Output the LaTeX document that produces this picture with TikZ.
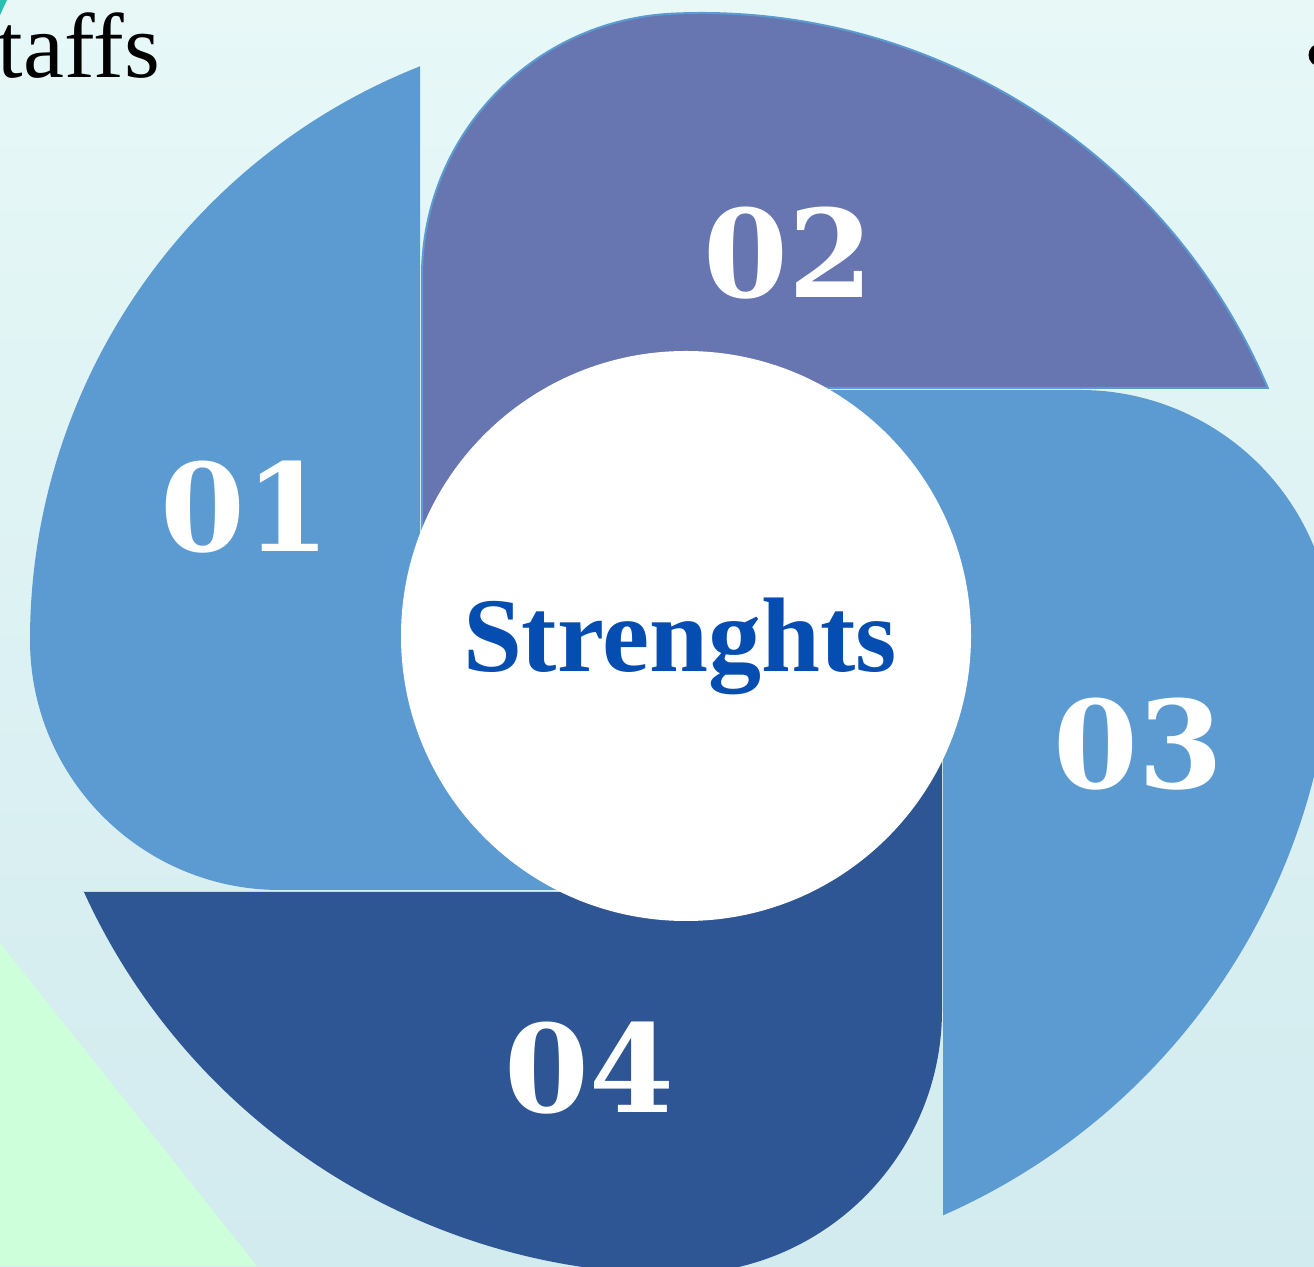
\documentclass[tikz,border=0pt]{standalone}
\usepackage{fontspec}
\setmainfont{Liberation Serif}
\newfontfamily\numfont{DejaVu Serif}
\definecolor{bgtop}{RGB}{231,248,247}
\definecolor{bgbot}{RGB}{210,235,239}
\definecolor{bladeA}{RGB}{92,155,210}
\definecolor{bladeB}{RGB}{103,118,176}
\definecolor{bladeC}{RGB}{46,86,148}
\definecolor{mintgreen}{RGB}{204,255,218}
\definecolor{tealmark}{RGB}{40,190,176}
\definecolor{strblue}{RGB}{5,77,176}
\tikzset{
  numtxt/.style={font=\numfont\bfseries\fontsize{122}{130}\selectfont, text=white, inner sep=0},
}
\begin{document}
\begin{tikzpicture}[x=1pt,y=1pt]
\useasboundingbox (0,0) rectangle (1314,1266);
\clip (0,0) rectangle (1314,1266);
% background
\shade[top color=bgtop, bottom color=bgbot] (0,0) rectangle (1314,1266);
\fill[mintgreen] (0,323) -- (257,0) -- (0,0) -- cycle;
\fill[tealmark] (0,1266) -- (7,1266) -- (0,1251) -- cycle;
\node[font=\fontsize{92}{100}\selectfont, anchor=base east, inner sep=0] (staffs) at (160,1188) {staffs};
\node[circle, fill=black, minimum size=23, inner sep=0] (dot) at (1320,1211) {};
% blade 01
\fill[bladeA] (420,1200) -- (420,630) -- (686,630) -- (686,376) -- (280,376)
  arc[start angle=-90,end angle=-180,radius=250]
  arc[start angle=180,end angle=111.6,radius=617] -- cycle;
% blade 04
\fill[bladeC] (83,374) -- (686,374) -- (686,630) -- (942,630) -- (942,256)
  arc[start angle=0,end angle=-90,radius=264]
  arc[start angle=-90,end angle=-155.51,radius=653] -- cycle;
% blade 03
\fill[bladeA] (686,876) -- (1080,876)
  arc[start angle=90,end angle=-3.85,radius=253]
  arc[start angle=-3.85,end angle=-66.22,radius=655] -- (943,630) -- (686,630) -- cycle;
% blade 02
\filldraw[fill=bladeB, draw=bladeA, line width=2] (686,630) -- (422,630) -- (422,990)
  arc[start angle=180,end angle=92.76,radius=262.6]
  arc[start angle=92.76,end angle=22.98,radius=615] -- (686,878) -- cycle;
% hub
\node[circle, fill=white, minimum size=570, inner sep=0] (hub) at (686,630) {};
\node[font=\fontsize{106}{110}\selectfont\bfseries, text=strblue, anchor=base, inner sep=0] (title) at (680,594) {Strenghts};
% numbers
\node[numtxt] (n01) at (245,759) {01};
\node[numtxt] (n02) at (788,1013) {02};
\node[numtxt] (n03) at (1138,522) {03};
\node[numtxt] (n04) at (589,198) {04};
\end{tikzpicture}
\end{document}
